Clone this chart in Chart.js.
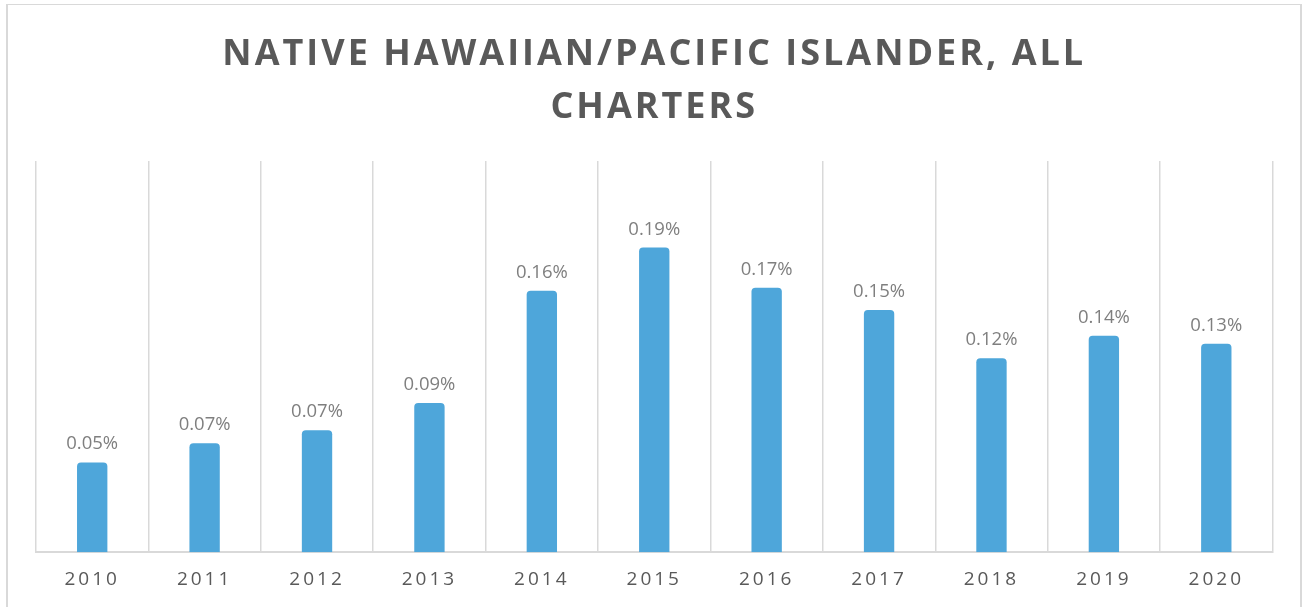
<!DOCTYPE html>
<html>
<head>
<meta charset="utf-8">
<script src="https://cdn.jsdelivr.net/npm/chart.js@4/dist/chart.umd.min.js"></script>
<style>
  html, body { margin: 0; padding: 0; background: #ffffff; overflow: hidden; }
  #wrap { position: relative; width: 1304px; height: 607px; }
  #c { position: absolute; left: 0; top: 0; }
  #frame { position: absolute; left: 6px; top: 4px; width: 1292px; height: 640px;
           border-style: solid; border-color: #d9d9d9; border-width: 1px 2px 0 2px; pointer-events: none; }
</style>
</head>
<body>
<div id="wrap">
  <canvas id="c" width="1304" height="607"></canvas>
  <div id="frame"></div>
</div>
<script>
// ---- Data ----
const titleLines = ['NATIVE HAWAIIAN/PACIFIC ISLANDER, ALL', 'CHARTERS'];
const years = ['2010', '2011', '2012', '2013', '2014', '2015', '2016', '2017', '2018', '2019', '2020'];
// share of students, in percent
const shares = [0.056, 0.068, 0.076, 0.093, 0.163, 0.190, 0.165, 0.151, 0.121, 0.135, 0.130];
// data-label texts as printed on the chart
const shareLabels = ['0.05%', '0.07%', '0.07%', '0.09%', '0.16%', '0.19%', '0.17%', '0.15%', '0.12%', '0.14%', '0.13%'];

const FONT = "'Open Sans', 'DejaVu Sans', sans-serif";

const spacingPlugin = {
  id: 'spacing',
  beforeDraw(chart) { chart.ctx.letterSpacing = '3px'; },
  beforeDatasetsDraw(chart) { chart.ctx.letterSpacing = '0px'; },
  afterDatasetsDraw(chart) {
    const ctx = chart.ctx;
    const meta = chart.getDatasetMeta(0);
    ctx.save();
    ctx.letterSpacing = '0px';
    ctx.font = "18.5px " + FONT;
    ctx.fillStyle = '#7f7f7f';
    ctx.textAlign = 'center';
    ctx.textBaseline = 'alphabetic';
    meta.data.forEach((bar, i) => {
      ctx.fillText(shareLabels[i], bar.x, bar.y - 13);
    });
    ctx.restore();
    ctx.letterSpacing = '3px';
  },
  afterDraw(chart) { chart.ctx.letterSpacing = '0px'; }
};

new Chart(document.getElementById('c'), {
  type: 'bar',
  data: {
    labels: years,
    datasets: [{
      data: shares,
      backgroundColor: '#4ea6da',
      borderWidth: 0,
      borderRadius: { topLeft: 4, topRight: 4, bottomLeft: 0, bottomRight: 0 },
      borderSkipped: false,
      barPercentage: 0.27,
      categoryPercentage: 1.0
    }]
  },
  options: {
    responsive: false,
    animation: false,
    devicePixelRatio: 1,
    layout: { padding: { left: 36, right: 31.5, top: 0, bottom: 0 } },
    plugins: {
      legend: { display: false },
      tooltip: { enabled: false },
      title: {
        display: true,
        text: titleLines,
        color: '#595959',
        font: { family: FONT, size: 36, weight: 'bold', lineHeight: 53 / 36 },
        padding: { top: 28, bottom: 27 }
      }
    },
    scales: {
      x: {
        z: 1,
        grid: { display: true, offset: true, color: '#d9d9d9', lineWidth: 1.5, drawTicks: false },
        border: { display: true, color: '#d9d9d9', width: 2 },
        ticks: {
          color: '#595959',
          font: { family: FONT, size: 19 },
          padding: 16,
          autoSkip: false,
          maxRotation: 0
        }
      },
      y: {
        display: false,
        min: 0,
        max: 0.244
      }
    }
  },
  plugins: [spacingPlugin]
});
</script>
</body>
</html>
